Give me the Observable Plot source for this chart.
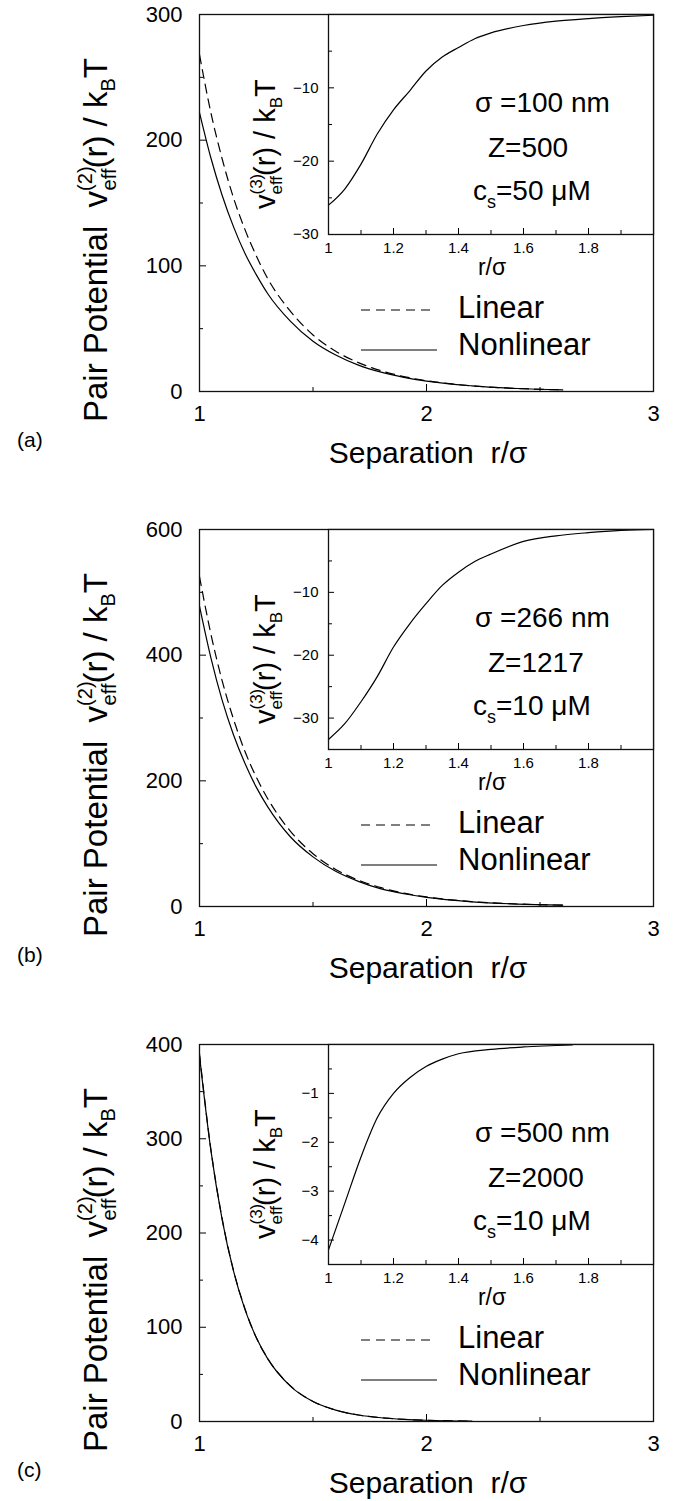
<!DOCTYPE html>
<html>
<head>
<meta charset="utf-8">
<script src="https://cdn.jsdelivr.net/npm/d3@7"></script>
<script src="https://cdn.jsdelivr.net/npm/@observablehq/plot@0.6"></script>
<style>
  html, body { margin: 0; padding: 0; background: #fff; }
  #wrap { position: relative; width: 685px; height: 1501px; overflow: hidden; background: #fff; }
</style>
</head>
<body>
<div id="wrap"></div>
<script>
// ---------- data ----------
const rMain = [1, 1.05, 1.1, 1.15, 1.2, 1.25, 1.3, 1.4, 1.5, 1.6, 1.7, 1.8, 1.9, 2.0, 2.2, 2.4, 2.6];
const linA = [268, 222, 185, 154, 129, 108, 90, 64, 45, 32, 23, 16.5, 11.9, 8.6, 4.5, 2.4, 1.3];
const nonA = [222, 186, 156, 131, 110, 93, 78, 56, 40, 29, 21, 15.4, 11.3, 8.2, 4.5, 2.4, 1.3];
const linB = [525, 434, 359, 298, 247, 206, 172, 120, 84, 59, 42, 30, 21.3, 15.2, 7.8, 4.0, 2.1];
const nonB = [478, 396, 328, 273, 228, 190, 159, 111, 79, 56, 40, 28, 20.3, 14.5, 7.5, 3.9, 2.1];
const rMainC = [1, 1.05, 1.1, 1.15, 1.2, 1.25, 1.3, 1.4, 1.5, 1.6, 1.7, 1.8, 1.9, 2.0, 2.2];
const linC = [390, 289, 215, 160, 120, 89, 67, 38, 21.3, 12.1, 6.9, 4.0, 2.3, 1.3, 0.4];
const nonC = [388, 288, 214, 159.5, 119, 89, 66.7, 37.6, 21.2, 12.1, 6.9, 4.0, 2.3, 1.3, 0.4];

const rInset = [1, 1.05, 1.1, 1.15, 1.2, 1.25, 1.3, 1.35, 1.4, 1.45, 1.5, 1.6, 1.7, 1.8, 1.9, 2.0];
const v3A = [-26, -23.8, -20.4, -16.3, -13.0, -10.4, -7.7, -5.8, -4.5, -3.3, -2.5, -1.5, -0.9, -0.55, -0.3, -0.1];
const v3B = [-33.4, -30.9, -27.4, -23.4, -18.7, -15.0, -11.8, -8.9, -6.8, -5.1, -3.9, -1.9, -1.0, -0.5, -0.15, 0];
const rInsetC = [1, 1.05, 1.1, 1.15, 1.2, 1.25, 1.3, 1.35, 1.4, 1.5, 1.6, 1.75];
const v3C = [-4.2, -3.25, -2.3, -1.5, -1.0, -0.68, -0.45, -0.3, -0.19, -0.1, -0.05, -0.01];

// ticks
const mainXMajor = [1, 2, 3];
const mainXMinor = [1.5, 2.5];
const mainYMajorA = [0, 100, 200, 300], mainYMinorA = [50, 150, 250];
const mainYMajorB = [0, 200, 400, 600], mainYMinorB = [100, 300, 500];
const mainYMajorC = [0, 100, 200, 300, 400], mainYMinorC = [50, 150, 250, 350];
const insetXMajor = [1, 1.2, 1.4, 1.6, 1.8];
const insetXMinor = [1.1, 1.3, 1.5, 1.7, 1.9];
const insetYMajorA = [-10, -20, -30], insetYMinorA = [-5, -15, -25];
const insetYMajorB = [-10, -20, -30], insetYMinorB = [-5, -15, -25];
const insetYMajorC = [-1, -2, -3, -4], insetYMinorC = [-0.5, -1.5, -2.5, -3.5];

const panelLetters = ["(a)", "(b)", "(c)"];
const sigmaTexts = ["\u03C3 =100 nm", "\u03C3 =266 nm", "\u03C3 =500 nm"];
const zTexts = ["Z=500", "Z=1217", "Z=2000"];
const csTexts = ["=50 \u03BCM", "=10 \u03BCM", "=10 \u03BCM"];

// ---------- drawing ----------
const FONT = '"Liberation Sans", Arial, Helvetica, sans-serif';
const W = 685, PH = 515;
const fmt = d => (d < 0 ? "\u2212" + String(Math.abs(d)) : String(d));
const blank = () => "";
const table = (xs, ys) => xs.map((r, i) => ({r, v: ys[i]}));

const panels = [
  {top: 0, rMain, lin: linA, non: nonA, yDomain: [0, 300], yMajor: mainYMajorA, yMinor: mainYMinorA,
   rIn: rInset, v3: v3A, inDomain: [-30, 0], inMajor: insetYMajorA, inMinor: insetYMinorA},
  {top: 515, rMain, lin: linB, non: nonB, yDomain: [0, 600], yMajor: mainYMajorB, yMinor: mainYMinorB,
   rIn: rInset, v3: v3B, inDomain: [-35, 0], inMajor: insetYMajorB, inMinor: insetYMinorB},
  {top: 1030, rMain: rMainC, lin: linC, non: nonC, yDomain: [0, 400], yMajor: mainYMajorC, yMinor: mainYMinorC,
   rIn: rInsetC, v3: v3C, inDomain: [-4.5, 0], inMajor: insetYMajorC, inMinor: insetYMinorC}
];

const wrap = document.getElementById("wrap");

panels.forEach((p, k) => {
  const main = Plot.plot({
    width: W, height: PH,
    marginLeft: 199, marginRight: 32, marginTop: 14, marginBottom: PH - 391,
    x: {domain: [1, 3], label: null},
    y: {domain: p.yDomain, label: null},
    style: {fontFamily: FONT, background: "transparent", color: "black", overflow: "visible"},
    marks: [
      Plot.line(table(p.rMain, p.lin), {x: "r", y: "v", stroke: "black", strokeWidth: 1.2, strokeDasharray: "9,6", curve: "monotone-x"}),
      Plot.line(table(p.rMain, p.non), {x: "r", y: "v", stroke: "black", strokeWidth: 1.2, curve: "monotone-x"}),
      Plot.axisX({ticks: mainXMajor, anchor: "bottom", tickSize: 7, dy: -7, tickFormat: blank, label: null}),
      Plot.axisX({ticks: mainXMinor, anchor: "bottom", tickSize: 4, dy: -4, tickFormat: blank, label: null}),
      Plot.axisX({ticks: mainXMajor, anchor: "bottom", tickSize: 0, tickPadding: 14, fontSize: 22, tickFormat: fmt, label: null}),
      Plot.axisY({ticks: p.yMajor, anchor: "left", tickSize: 7, dx: 7, tickFormat: blank, label: null}),
      Plot.axisY({ticks: p.yMinor, anchor: "left", tickSize: 4, dx: 4, tickFormat: blank, label: null}),
      Plot.axisY({ticks: p.yMajor, anchor: "left", tickSize: 0, tickPadding: 17, fontSize: 22, tickFormat: fmt, label: null}),
      Plot.frame({stroke: "#111", strokeWidth: 1.3})
    ]
  });
  main.style.position = "absolute";
  main.style.left = "0px";
  main.style.top = p.top + "px";
  wrap.appendChild(main);

  const svg = d3.select(main);
  const g = svg.append("g").attr("font-family", FONT).attr("fill", "black").attr("text-anchor", "start");

  // y axis title
  const yl = g.append("text")
    .attr("transform", "translate(107,422) rotate(-90)")
    .attr("text-anchor", "start")
    .attr("font-size", 33)
    .attr("xml:space", "preserve")
    .style("white-space", "pre");
  yl.append("tspan").text("Pair Potential  v");
  yl.append("tspan").attr("font-size", 20).attr("dy", -15).text("(2)");
  yl.append("tspan").attr("font-size", 20).attr("dx", -24).attr("dy", 24).text("eff");
  yl.append("tspan").attr("dy", -9).text("(r) / k");
  yl.append("tspan").attr("font-size", 20).attr("dy", 8).text("B");
  yl.append("tspan").attr("dy", -8).text("T");

  // x axis title
  g.append("text")
    .attr("x", 428).attr("y", 463)
    .attr("text-anchor", "middle")
    .attr("font-size", 30)
    .attr("xml:space", "preserve")
    .style("white-space", "pre")
    .text("Separation  r/\u03C3");

  // panel letter
  g.append("text").attr("x", 17).attr("y", 447).attr("font-size", 21).text(panelLetters[k]);

  // legend
  g.append("line").attr("x1", 361).attr("x2", 436).attr("y1", 310).attr("y2", 310)
    .attr("stroke", "black").attr("stroke-width", 1.2).attr("stroke-dasharray", "9,6");
  g.append("text").attr("x", 458).attr("y", 318).attr("font-size", 31).text("Linear");
  g.append("line").attr("x1", 361).attr("x2", 437).attr("y1", 350).attr("y2", 350)
    .attr("stroke", "black").attr("stroke-width", 1.2);
  g.append("text").attr("x", 458).attr("y", 355).attr("font-size", 31).text("Nonlinear");

  // ---------- inset ----------
  const IL = 230;
  const inset = Plot.plot({
    width: W - IL, height: 300,
    marginLeft: 328 - IL, marginRight: 32, marginTop: 14, marginBottom: 66,
    x: {domain: [1, 2], label: null},
    y: {domain: p.inDomain, label: null},
    style: {fontFamily: FONT, background: "transparent", color: "black", overflow: "visible"},
    marks: [
      Plot.frame({fill: "white", stroke: null}),
      Plot.line(table(p.rIn, p.v3), {x: "r", y: "v", stroke: "black", strokeWidth: 1.2, curve: "monotone-x"}),
      Plot.axisX({ticks: insetXMajor, anchor: "bottom", tickSize: 6, dy: -6, tickFormat: blank, label: null}),
      Plot.axisX({ticks: insetXMinor, anchor: "bottom", tickSize: 4, dy: -4, tickFormat: blank, label: null}),
      Plot.axisX({ticks: insetXMajor, anchor: "bottom", tickSize: 0, tickPadding: 8, fontSize: 15, tickFormat: fmt, label: null}),
      Plot.axisY({ticks: p.inMajor, anchor: "left", tickSize: 6, dx: 6, tickFormat: blank, label: null}),
      Plot.axisY({ticks: p.inMinor, anchor: "left", tickSize: 4, dx: 4, tickFormat: blank, label: null}),
      Plot.axisY({ticks: p.inMajor, anchor: "left", tickSize: 0, tickPadding: 10, fontSize: 15, tickFormat: fmt, label: null}),
      Plot.frame({stroke: "#111", strokeWidth: 1.3})
    ]
  });
  inset.style.position = "absolute";
  inset.style.left = IL + "px";
  inset.style.top = p.top + "px";
  wrap.appendChild(inset);

  const ig = d3.select(inset).append("g")
    .attr("transform", `translate(${-IL},0)`)
    .attr("font-family", FONT).attr("fill", "black").attr("text-anchor", "start");

  // inset y title
  const il = ig.append("text")
    .attr("transform", "translate(275,209) rotate(-90)")
    .attr("text-anchor", "start")
    .attr("font-size", 29)
    .attr("xml:space", "preserve")
    .style("white-space", "pre");
  il.append("tspan").text("v");
  il.append("tspan").attr("font-size", 17).attr("dy", -13).text("(3)");
  il.append("tspan").attr("font-size", 17).attr("dx", -20.8).attr("dy", 20).text("eff");
  il.append("tspan").attr("dy", -7).text("(r) / k");
  il.append("tspan").attr("font-size", 17).attr("dy", 7).text("B");
  il.append("tspan").attr("dy", -7).text("T");

  // inset x title
  ig.append("text").attr("x", 492).attr("y", 275).attr("text-anchor", "middle")
    .attr("font-size", 23).text("r/\u03C3");

  // annotations
  ig.append("text").attr("x", 475).attr("y", 112).attr("font-size", 28).text(sigmaTexts[k]);
  ig.append("text").attr("x", 488).attr("y", 157).attr("font-size", 28).text(zTexts[k]);
  const cs = ig.append("text").attr("x", 473).attr("y", 200).attr("font-size", 28);
  cs.append("tspan").text("c");
  cs.append("tspan").attr("font-size", 18).attr("dy", 8).text("s");
  cs.append("tspan").attr("dy", -8).text(csTexts[k]);
});
</script>
</body>
</html>
